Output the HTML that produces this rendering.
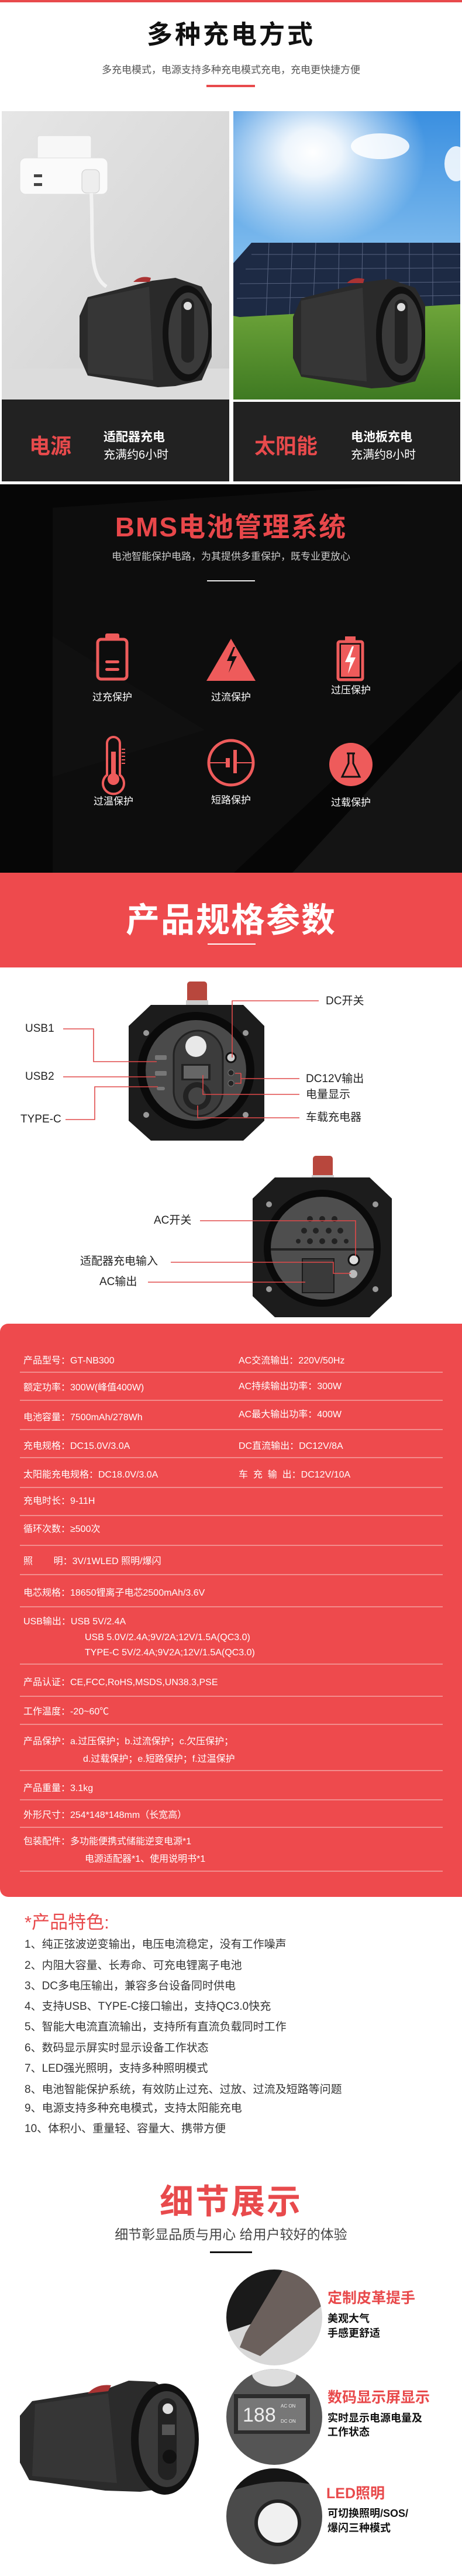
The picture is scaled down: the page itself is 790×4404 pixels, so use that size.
<!DOCTYPE html>
<html><head><meta charset="utf-8">
<style>
*{margin:0;padding:0;box-sizing:border-box}
body{width:790px;height:4404px;position:relative;background:#fff;font-family:"Liberation Sans","Noto Sans CJK SC",sans-serif;overflow:hidden}
.a{position:absolute}
.c{position:absolute;left:0;width:790px;text-align:center;white-space:nowrap}
.t{position:absolute;white-space:nowrap;line-height:1}
.row{position:absolute;left:40px;font-size:16px;color:#fff;white-space:nowrap;line-height:1}
.ln{position:absolute;left:34px;width:723px;height:2px;background:#f28c8c}
.f{position:absolute;left:42px;font-size:19px;color:#333;white-space:nowrap;line-height:1}
.lab{position:absolute;font-size:19px;color:#222;white-space:nowrap;line-height:1}
.ic{position:absolute;font-size:17px;color:#fff;white-space:nowrap;line-height:1;transform:translate(-50%,-50%)}
</style></head><body>

<!-- section 1 -->
<div class="a" style="left:0;top:0;width:790px;height:4px;background:#e84a4c"></div>
<div class="c" style="top:38px;font-size:44px;font-weight:bold;color:#111;letter-spacing:4px;line-height:1">多种充电方式</div>
<div class="c" style="top:111px;font-size:17px;color:#555;line-height:1">多充电模式，电源支持多种充电模式充电，充电更快捷方便</div>
<div class="a" style="left:353px;top:145px;width:83px;height:4px;background:#e84a4c"></div>

<svg class="a" style="left:0;top:190px" width="790" height="640">
<defs>
<linearGradient id="wall" x1="0" y1="0" x2="1" y2="1"><stop offset="0" stop-color="#e6e6e6"/><stop offset="1" stop-color="#cfcfcf"/></linearGradient>
<linearGradient id="sky" x1="0" y1="0" x2="0" y2="1"><stop offset="0" stop-color="#3a8fe0"/><stop offset="0.6" stop-color="#8cc4f0"/><stop offset="1" stop-color="#b8dcf5"/></linearGradient>
<radialGradient id="sun" cx="0.35" cy="0.22" r="0.5"><stop offset="0" stop-color="#fff"/><stop offset="0.25" stop-color="#fff" stop-opacity=".9"/><stop offset="1" stop-color="#fff" stop-opacity="0"/></radialGradient>
<linearGradient id="grass" x1="0" y1="0" x2="0" y2="1"><stop offset="0" stop-color="#6ea53a"/><stop offset="1" stop-color="#3f7a22"/></linearGradient>
</defs>
<rect x="3" y="0" width="389" height="493" fill="url(#wall)"/>
<rect x="3" y="440" width="389" height="53" fill="#dcdcdc"/>
<rect x="64" y="42" width="92" height="92" rx="4" fill="#f7f7f7" stroke="#ddd"/>
<rect x="34" y="80" width="150" height="62" rx="10" fill="#fafafa" stroke="#ddd"/>
<rect x="58" y="108" width="14" height="5" fill="#444"/><rect x="58" y="123" width="14" height="5" fill="#444"/>
<rect x="140" y="100" width="30" height="40" rx="8" fill="#eee" stroke="#ccc"/>
<path d="M156 140 C160 220,150 280,182 300" stroke="#f2f2f2" stroke-width="6" fill="none"/>
<g id="dev">
<path d="M150 318 L260 290 L300 285 L345 300 L362 330 L362 420 L345 460 L300 470 L270 472 L150 452 L136 420 L136 350 Z" fill="#2a2a2a"/>
<path d="M150 322 L255 300 L262 460 L150 448 Z" fill="#363636"/>
<ellipse cx="320" cy="380" rx="42" ry="82" fill="#111"/>
<ellipse cx="322" cy="380" rx="34" ry="70" fill="#3a3a3a"/>
<rect x="310" y="320" width="22" height="110" rx="11" fill="#222"/>
<circle cx="321" cy="333" r="7" fill="#ddd"/>
<path d="M228 292 Q240 280,258 285 L256 292 Z" fill="#a33"/>
</g>
<rect x="3" y="493" width="389" height="140" fill="#222"/>
<rect x="399" y="0" width="388" height="493" fill="url(#sky)"/>
<rect x="399" y="0" width="388" height="320" fill="url(#sun)"/>
<ellipse cx="650" cy="60" rx="50" ry="22" fill="#fff" opacity=".85"/>
<ellipse cx="780" cy="90" rx="20" ry="30" fill="#fff" opacity=".85"/>
<rect x="399" y="330" width="388" height="163" fill="url(#grass)"/>
<path d="M430 225 L787 225 L787 330 L410 352 L399 350 L399 260 Z" fill="#1d2a44"/>
<g stroke="#7f8aa8" stroke-width="1" opacity=".6">
<line x1="430" y1="245" x2="787" y2="245"/><line x1="420" y1="270" x2="787" y2="268"/><line x1="410" y1="295" x2="787" y2="292"/><line x1="405" y1="320" x2="787" y2="315"/>
<line x1="460" y1="225" x2="455" y2="350"/><line x1="500" y1="225" x2="495" y2="348"/><line x1="540" y1="225" x2="535" y2="345"/><line x1="580" y1="225" x2="578" y2="342"/><line x1="620" y1="225" x2="618" y2="340"/><line x1="660" y1="225" x2="660" y2="337"/><line x1="700" y1="225" x2="700" y2="334"/><line x1="740" y1="225" x2="740" y2="332"/>
</g>
<use href="#dev" transform="translate(365,2)"/>
<rect x="399" y="497" width="388" height="136" fill="#222"/>
</svg>
<div class="t" style="left:50px;top:745px;font-size:36px;font-weight:bold;color:#e84a4c">电源</div>
<div class="t" style="left:177px;top:737px;font-size:21px;font-weight:bold;color:#fff">适配器充电</div>
<div class="t" style="left:177px;top:768px;font-size:20px;color:#fff">充满约6小时</div>
<div class="t" style="left:435px;top:745px;font-size:36px;font-weight:bold;color:#e84a4c">太阳能</div>
<div class="t" style="left:600px;top:737px;font-size:21px;font-weight:bold;color:#fff">电池板充电</div>
<div class="t" style="left:600px;top:768px;font-size:20px;color:#fff">充满约8小时</div>

<svg class="a" style="left:0;top:828px" width="790" height="664">
<rect width="790" height="664" fill="#060606"/>
<path d="M90 40 L700 0 L790 0 L790 300 L400 664 L90 664 Z" fill="#0d0d0d"/>
<path d="M500 664 L790 350 L790 664 Z" fill="#141414"/>
<path d="M90 260 L350 420 L90 500 Z" fill="#101010"/>
</svg>
<div class="c" style="top:878px;font-size:46px;font-weight:bold;color:#e8474a;letter-spacing:2px;line-height:1">BMS电池管理系统</div>
<div class="c" style="top:943px;font-size:17px;color:#ccc;line-height:1">电池智能保护电路，为其提供多重保护，既专业更放心</div>
<div class="a" style="left:354px;top:992px;width:82px;height:2px;background:#eee"></div>
<svg class="a" style="left:0;top:1060px" width="790" height="300">
<g fill="none" stroke="#ee5b5b" stroke-width="5">
<rect x="167" y="33" width="50" height="68" rx="6"/>
<rect x="578" y="37" width="42" height="65" rx="3"/>
<circle cx="395" cy="244" r="38"/>
<path d="M183 211 L183 265 A18 18 0 1 0 205 265 L205 211 A11 11 0 0 0 183 211 Z" stroke-width="4"/>
</g>
<g fill="#ee5b5b">
<rect x="180" y="23" width="24" height="10" rx="3"/>
<rect x="590" y="28" width="18" height="9"/>
<rect x="180" y="69" width="24" height="5" rx="2.5"/><rect x="180" y="82" width="24" height="5" rx="2.5"/>
<path d="M395 32 L437 104 L353 104 Z"/>
<rect x="583" y="42" width="32" height="55"/>
<rect x="190" y="225" width="8" height="40"/><circle cx="194" cy="272" r="10"/>
<rect x="208" y="220" width="6" height="2"/><rect x="208" y="226" width="6" height="2"/><rect x="208" y="232" width="6" height="2"/><rect x="208" y="238" width="6" height="2"/><rect x="208" y="244" width="6" height="2"/>
<circle cx="600" cy="247" r="37"/>
<rect x="386" y="236" width="7" height="16"/><rect x="399" y="222" width="6" height="40"/>
<rect x="358" y="243" width="28" height="2"/><rect x="405" y="243" width="28" height="2"/>
</g>
<path d="M399 46 L388 70 L397 70 L391 90 L405 62 L396 62 L402 46 Z" fill="#111"/>
<path d="M602 45 L590 72 L599 72 L595 92 L608 64 L599 64 L605 45 Z" fill="#fff"/>
<path d="M593 228 L607 228 M596 228 L596 245 L585 268 L615 268 L604 245 L604 228" fill="none" stroke="#111" stroke-width="3"/>
</svg>
<div class="ic" style="left:192px;top:1192px">过充保护</div>
<div class="ic" style="left:395px;top:1192px">过流保护</div>
<div class="ic" style="left:600px;top:1180px">过压保护</div>
<div class="ic" style="left:194px;top:1370px">过温保护</div>
<div class="ic" style="left:395px;top:1368px">短路保护</div>
<div class="ic" style="left:600px;top:1372px">过载保护</div>

<div class="a" style="left:0;top:1492px;width:790px;height:162px;background:#ee4a4d"></div>
<div class="c" style="top:1545px;font-size:58px;font-weight:bold;color:#fff;letter-spacing:2px;line-height:1">产品规格参数</div>
<div class="a" style="left:355px;top:1613px;width:82px;height:2px;background:#fff"></div>

<svg class="a" style="left:0;top:1654px" width="790" height="612">
<rect x="320" y="24" width="34" height="40" rx="5" fill="#b8473d"/>
<rect x="318" y="56" width="38" height="10" fill="#ccc"/>
<path d="M258 64 L416 64 L452 100 L452 262 L416 296 L258 296 L220 262 L220 100 Z" fill="#1c1c1c"/>
<circle cx="335" cy="176" r="100" fill="#0a0a0a"/>
<circle cx="335" cy="176" r="86" fill="#4a4a4a"/>
<rect x="297" y="108" width="84" height="146" rx="42" fill="#3c3c3c" stroke="#222" stroke-width="3"/>
<circle cx="335" cy="135" r="18" fill="#e8e8e8"/>
<rect x="310" y="165" width="50" height="28" fill="#222"/><rect x="314" y="168" width="42" height="22" fill="#666"/>
<circle cx="337" cy="220" r="24" fill="#222"/><circle cx="337" cy="220" r="15" fill="#444"/>
<circle cx="395" cy="154" r="8" fill="#ccc" stroke="#111" stroke-width="3"/>
<circle cx="395" cy="180" r="5" fill="#222" stroke="#777"/><circle cx="395" cy="198" r="5" fill="#222" stroke="#777"/>
<rect x="265" y="150" width="20" height="8" rx="2" fill="#777"/><rect x="265" y="177" width="20" height="8" rx="2" fill="#777"/><rect x="268" y="204" width="14" height="6" rx="3" fill="#777"/>
<circle cx="250" cy="112" r="5" fill="#999"/><circle cx="420" cy="112" r="5" fill="#999"/>
<circle cx="250" cy="252" r="5" fill="#999"/><circle cx="420" cy="252" r="5" fill="#999"/>
<rect x="535" y="322" width="34" height="40" rx="5" fill="#b8473d"/>
<rect x="533" y="355" width="38" height="10" fill="#ccc"/>
<path d="M470 359 L632 359 L670 395 L670 562 L632 598 L470 598 L432 562 L432 395 Z" fill="#1c1c1c"/>
<circle cx="551" cy="480" r="100" fill="#0a0a0a"/>
<circle cx="551" cy="480" r="88" fill="#4e4e4e"/>
<rect x="463" y="480" width="176" height="4" fill="#222"/>
<g fill="#222"><circle cx="530" cy="430" r="5"/><circle cx="551" cy="430" r="5"/><circle cx="572" cy="430" r="5"/><circle cx="520" cy="450" r="5"/><circle cx="540" cy="450" r="5"/><circle cx="562" cy="450" r="5"/><circle cx="582" cy="450" r="5"/><circle cx="510" cy="468" r="4"/><circle cx="530" cy="468" r="5"/><circle cx="551" cy="468" r="5"/><circle cx="572" cy="468" r="5"/><circle cx="592" cy="468" r="4"/></g>
<rect x="517" y="498" width="54" height="58" fill="#3a3a3a" stroke="#1a1a1a" stroke-width="2"/>
<circle cx="605" cy="500" r="9" fill="#ddd" stroke="#111" stroke-width="3"/>
<circle cx="604" cy="524" r="7" fill="#bbb"/>
<circle cx="460" cy="405" r="5" fill="#999"/><circle cx="642" cy="405" r="5" fill="#999"/><circle cx="460" cy="550" r="5" fill="#999"/><circle cx="642" cy="550" r="5" fill="#999"/>
<g fill="none" stroke="#e04a4a" stroke-width="1.6">
<path d="M108 105 H160 V161 H268"/>
<path d="M108 187 H266"/>
<path d="M112 260 H162 V204 H270"/>
<path d="M545 57 H397 V154"/>
<path d="M512 190 H412 M412 181 V198 H402 M412 181 H402"/>
<path d="M512 217 H347 V184"/>
<path d="M512 257 H338 V236"/>
<path d="M342 433 H608 V493"/>
<path d="M292 504 H570 V523 H600"/>
<path d="M253 538 H522"/>
</g>
</svg>
<div class="lab" style="left:557px;top:1702px">DC开关</div>
<div class="lab" style="left:43px;top:1749px">USB1</div>
<div class="lab" style="left:43px;top:1831px">USB2</div>
<div class="lab" style="left:35px;top:1904px">TYPE-C</div>
<div class="lab" style="left:523px;top:1835px">DC12V输出</div>
<div class="lab" style="left:523px;top:1862px">电量显示</div>
<div class="lab" style="left:523px;top:1901px">车载充电器</div>
<div class="lab" style="left:263px;top:2077px">AC开关</div>
<div class="lab" style="left:137px;top:2147px">适配器充电输入</div>
<div class="lab" style="left:170px;top:2182px">AC输出</div>

<div class="a" style="left:0;top:2263px;width:790px;height:980px;background:#ee4a4d;border-radius:14px 0 0 14px"></div>
<div class="row" style="top:2319px">产品型号：GT-NB300</div><div class="row" style="top:2319px;left:408px">AC交流输出：220V/50Hz</div>
<div class="ln" style="top:2345px"></div>
<div class="row" style="top:2365px">额定功率：300W(峰值400W)</div><div class="row" style="top:2363px;left:408px">AC持续输出功率：300W</div>
<div class="ln" style="top:2393px"></div>
<div class="row" style="top:2416px">电池容量：7500mAh/278Wh</div><div class="row" style="top:2411px;left:408px">AC最大输出功率：400W</div>
<div class="ln" style="top:2443px"></div>
<div class="row" style="top:2465px">充电规格：DC15.0V/3.0A</div><div class="row" style="top:2465px;left:408px">DC直流输出：DC12V/8A</div>
<div class="ln" style="top:2491px"></div>
<div class="row" style="top:2514px">太阳能充电规格：DC18.0V/3.0A</div><div class="row" style="top:2514px;left:408px">车&nbsp; 充&nbsp; 输&nbsp; 出：DC12V/10A</div>
<div class="ln" style="top:2542px"></div>
<div class="row" style="top:2559px">充电时长：9-11H</div>
<div class="ln" style="top:2590px"></div>
<div class="row" style="top:2607px">循环次数：≥500次</div>
<div class="ln" style="top:2641px"></div>
<div class="row" style="top:2662px">照&nbsp;&nbsp;&nbsp;&nbsp;&nbsp;&nbsp;&nbsp;&nbsp;明：3V/1WLED 照明/爆闪</div>
<div class="ln" style="top:2691px"></div>
<div class="row" style="top:2716px">电芯规格：18650锂离子电芯2500mAh/3.6V</div>
<div class="ln" style="top:2746px"></div>
<div class="row" style="top:2765px">USB输出：USB 5V/2.4A</div>
<div class="row" style="top:2792px;left:145px">USB 5.0V/2.4A;9V/2A;12V/1.5A(QC3.0)</div>
<div class="row" style="top:2818px;left:145px">TYPE-C 5V/2.4A;9V2A;12V/1.5A(QC3.0)</div>
<div class="ln" style="top:2844px"></div>
<div class="row" style="top:2869px">产品认证：CE,FCC,RoHS,MSDS,UN38.3,PSE</div>
<div class="ln" style="top:2899px"></div>
<div class="row" style="top:2919px">工作温度：-20~60℃</div>
<div class="ln" style="top:2947px"></div>
<div class="row" style="top:2970px">产品保护：a.过压保护；b.过流保护；c.欠压保护；</div>
<div class="row" style="top:3000px;left:142px">d.过载保护；e.短路保护；f.过温保护</div>
<div class="ln" style="top:3026px"></div>
<div class="row" style="top:3050px">产品重量：3.1kg</div>
<div class="ln" style="top:3076px"></div>
<div class="row" style="top:3096px">外形尺寸：254*148*148mm（长宽高）</div>
<div class="ln" style="top:3123px"></div>
<div class="row" style="top:3141px">包装配件：多功能便携式储能逆变电源*1</div>
<div class="row" style="top:3171px;left:145px">电源适配器*1、使用说明书*1</div>
<div class="ln" style="top:3198px"></div>

<div class="t" style="left:42px;top:3271px;font-size:31px;color:#e84a4c">*产品特色:</div>
<div class="f" style="top:3315px">1、纯正弦波逆变输出，电压电流稳定，没有工作噪声</div>
<div class="f" style="top:3351px">2、内阻大容量、长寿命、可充电锂离子电池</div>
<div class="f" style="top:3386px">3、DC多电压输出，兼容多台设备同时供电</div>
<div class="f" style="top:3421px">4、支持USB、TYPE-C接口输出，支持QC3.0快充</div>
<div class="f" style="top:3456px">5、智能大电流直流输出，支持所有直流负载同时工作</div>
<div class="f" style="top:3492px">6、数码显示屏实时显示设备工作状态</div>
<div class="f" style="top:3527px">7、LED强光照明，支持多种照明模式</div>
<div class="f" style="top:3563px">8、电池智能保护系统，有效防止过充、过放、过流及短路等问题</div>
<div class="f" style="top:3595px">9、电源支持多种充电模式，支持太阳能充电</div>
<div class="f" style="top:3630px">10、体积小、重量轻、容量大、携带方便</div>

<div class="c" style="top:3736px;font-size:58px;font-weight:bold;color:#e84a4c;letter-spacing:3px;line-height:1">细节展示</div>
<div class="c" style="top:3809px;font-size:23px;color:#444;line-height:1">细节彰显品质与用心 给用户较好的体验</div>
<div class="a" style="left:359px;top:3849px;width:72px;height:3px;background:#111"></div>
<svg class="a" style="left:0;top:4030px" width="790" height="240">
<path d="M55 75 L180 55 L220 40 L265 42 L300 65 L318 110 L318 180 L300 222 L240 230 L180 228 L50 210 L34 180 L34 100 Z" fill="#2b2b2b"/>
<path d="M60 80 L185 62 L200 215 L55 203 Z" fill="#363636"/>
<ellipse cx="282" cy="140" rx="58" ry="95" fill="#111"/>
<ellipse cx="285" cy="140" rx="48" ry="82" fill="#3a3a3a"/>
<rect x="270" y="70" width="32" height="140" rx="16" fill="#222"/>
<circle cx="287" cy="88" r="9" fill="#ddd"/>
<rect x="277" y="115" width="22" height="18" fill="#555"/>
<circle cx="290" cy="170" r="12" fill="#111"/>
<path d="M150 62 Q165 45,190 48 L185 58 Z" fill="#a33"/>
</svg>
<svg class="a" style="left:385px;top:3878px" width="170" height="526">
<defs><clipPath id="c1"><circle cx="84" cy="84" r="82"/></clipPath><clipPath id="c2"><circle cx="84" cy="254" r="82"/></clipPath><clipPath id="c3"><circle cx="84" cy="424" r="82"/></clipPath></defs>
<g clip-path="url(#c1)"><rect width="170" height="170" fill="#d8d8d8"/><path d="M0 0 L110 0 L60 90 L0 110 Z" fill="#1a1a1a"/><path d="M100 0 L170 0 L170 60 L60 150 L25 135 L35 110 Z" fill="#6b605c"/></g>
<g clip-path="url(#c2)"><rect y="170" width="170" height="170" fill="#555"/><ellipse cx="84" cy="180" rx="38" ry="22" fill="#ddd"/><rect x="15" y="215" width="130" height="68" fill="#2c2c2c"/><rect x="22" y="222" width="116" height="55" fill="#777"/><text x="30" y="262" font-size="34" fill="#eee" font-family="Liberation Sans">188</text><text x="95" y="238" font-size="8" fill="#eee" font-family="Liberation Sans">AC ON</text><text x="95" y="264" font-size="8" fill="#eee" font-family="Liberation Sans">DC ON</text></g>
<g clip-path="url(#c3)"><rect y="340" width="170" height="170" fill="#4a4a4a"/><path d="M0 340 H170 V375 Q84 350,0 385 Z" fill="#151515"/><circle cx="90" cy="435" r="40" fill="#222"/><circle cx="90" cy="435" r="34" fill="#f0f0f0"/></g>
</svg>
<div class="t" style="left:560px;top:3917px;font-size:25px;font-weight:bold;color:#e84a4c">定制皮革提手</div>
<div class="t" style="left:560px;top:3955px;font-size:18px;font-weight:bold;color:#111">美观大气</div>
<div class="t" style="left:560px;top:3980px;font-size:18px;font-weight:bold;color:#111">手感更舒适</div>
<div class="t" style="left:560px;top:4087px;font-size:25px;font-weight:bold;color:#e84a4c">数码显示屏显示</div>
<div class="t" style="left:560px;top:4125px;font-size:18px;font-weight:bold;color:#111">实时显示电源电量及</div>
<div class="t" style="left:560px;top:4149px;font-size:18px;font-weight:bold;color:#111">工作状态</div>
<div class="t" style="left:558px;top:4251px;font-size:25px;font-weight:bold;color:#e84a4c">LED照明</div>
<div class="t" style="left:560px;top:4288px;font-size:18px;font-weight:bold;color:#111">可切换照明/SOS/</div>
<div class="t" style="left:560px;top:4313px;font-size:18px;font-weight:bold;color:#111">爆闪三种模式</div>
</body></html>
